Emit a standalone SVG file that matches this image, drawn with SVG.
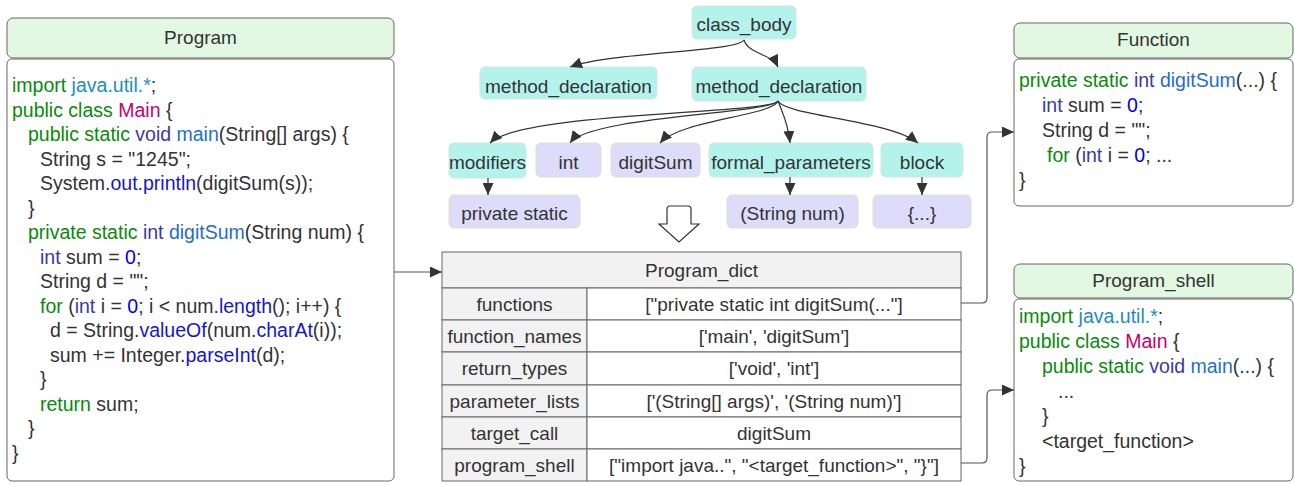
<svg xmlns="http://www.w3.org/2000/svg" width="1294" height="485" viewBox="0 0 1294 485">
<defs>
<marker id="ah" markerUnits="userSpaceOnUse" markerWidth="13" markerHeight="11" refX="12" refY="5.5" orient="auto">
<path d="M0,0 L12,5.5 L0,11 z" fill="#333"/>
</marker>
<style>
.hdr{fill:#e2f8e2;stroke:#666;stroke-width:1}
.body{fill:#fff;stroke:#666;stroke-width:1}
.t{font-family:"Liberation Sans",Arial,sans-serif;font-size:19px;fill:#333}
.c{font-family:"Liberation Sans",Arial,sans-serif;font-size:19.5px;fill:#333}
.mid{text-anchor:middle}
.k{fill:#0a8a0a}
.p{fill:#1e8cc4}
.cl{fill:#c8006e}
.ty{fill:#3a3aa4}
.f{fill:#1f6fc8}
.m{fill:#1515cf}
.n{fill:#0000ee}
.teal{fill:#b4f3ec;stroke:#d2e6e2;stroke-width:1}
.lav{fill:#dedcfb;stroke:#e4e0c4;stroke-width:1}
.edge{fill:none;stroke:#333;stroke-width:1.2}
.conn{fill:none;stroke:#555;stroke-width:1.2}
.cellg{fill:#f2f2f3;stroke:#666;stroke-width:1}
.cellw{fill:#fff;stroke:#666;stroke-width:1}
</style>
</defs>

<g id="program">
<rect class="hdr" x="7" y="18" width="387" height="40" rx="6"/>
<text class="t mid" x="200.5" y="43.5">Program</text>
<rect class="body" x="7" y="59" width="387" height="422" rx="5"/>
<text class="c" x="12" y="92"><tspan class="k">import</tspan> <tspan class="p">java.util.*</tspan>;</text>
<text class="c" x="12" y="116.5"><tspan class="k">public class</tspan> <tspan class="cl">Main</tspan> {</text>
<text class="c" x="28" y="141"><tspan class="k">public static</tspan> <tspan class="ty">void</tspan> <tspan class="f">main</tspan>(String[] args) {</text>
<text class="c" x="40" y="165.5">String s = "1245";</text>
<text class="c" x="40" y="190">System.<tspan class="m">out.println</tspan>(digitSum(s));</text>
<text class="c" x="28" y="214.5">}</text>
<text class="c" x="28" y="239"><tspan class="k">private static</tspan> <tspan class="ty">int</tspan> <tspan class="f">digitSum</tspan>(String num) {</text>
<text class="c" x="40" y="263.5"><tspan class="ty">int</tspan> sum = <tspan class="n">0</tspan>;</text>
<text class="c" x="40" y="288">String d = "";</text>
<text class="c" x="40" y="312.5"><tspan class="k">for</tspan> (<tspan class="ty">int</tspan> i = <tspan class="n">0</tspan>; i &lt; num.<tspan class="m">length</tspan>(); i++) {</text>
<text class="c" x="50" y="337">d = String.<tspan class="m">valueOf</tspan>(num.<tspan class="m">charAt</tspan>(i));</text>
<text class="c" x="50" y="361.5">sum += Integer.<tspan class="m">parseInt</tspan>(d);</text>
<text class="c" x="40" y="386">}</text>
<text class="c" x="40" y="410.5"><tspan class="k">return</tspan> sum;</text>
<text class="c" x="28" y="435">}</text>
<text class="c" x="12" y="459.5">}</text>
</g>

<g id="class_body">
<rect class="teal" x="692" y="6" width="104" height="33" rx="5"/>
<text class="t mid" x="744" y="31">class_body</text>
</g>
<g id="method_declaration_1">
<rect class="teal" x="480" y="67" width="177" height="32" rx="5"/>
<text class="t mid" x="568.5" y="93">method_declaration</text>
</g>
<g id="method_declaration_2">
<rect class="teal" x="692" y="67" width="174" height="34" rx="5"/>
<text class="t mid" x="779" y="93">method_declaration</text>
</g>
<g id="modifiers">
<rect class="teal" x="449" y="143" width="77" height="35" rx="5"/>
<text class="t mid" x="487.5" y="168.5">modifiers</text>
</g>
<g id="int">
<rect class="lav" x="536" y="143" width="65" height="34" rx="5"/>
<text class="t mid" x="568.5" y="168.5">int</text>
</g>
<g id="digitSum">
<rect class="lav" x="611" y="143" width="89" height="34" rx="5"/>
<text class="t mid" x="655.5" y="168.5">digitSum</text>
</g>
<g id="formal_parameters">
<rect class="teal" x="709" y="143" width="164" height="34" rx="5"/>
<text class="t mid" x="791" y="168.5">formal_parameters</text>
</g>
<g id="block">
<rect class="teal" x="881" y="143" width="82" height="34" rx="5"/>
<text class="t mid" x="922" y="168.5">block</text>
</g>
<g id="private_static">
<rect class="lav" x="449" y="195" width="131" height="33" rx="5"/>
<text class="t mid" x="514.5" y="219.5">private static</text>
</g>
<g id="string_num">
<rect class="lav" x="727" y="195" width="131" height="33" rx="5"/>
<text class="t mid" x="792.5" y="219.5">(String num)</text>
</g>
<g id="block_body">
<rect class="lav" x="873" y="195" width="98" height="33" rx="5"/>
<text class="t mid" x="922" y="219.5">{...}</text>
</g>

<g id="down_arrow">
<path d="M667,209 Q667,206 670,206 L688,206 Q691,206 691,209 L691,224 L699,224 L679,242 L659,224 L667,224 Z" fill="#fff" stroke="#333" stroke-width="1.2"/>
</g>

<g id="program_dict">
<rect class="cellg" x="442" y="252" width="519" height="36"/>
<text class="t mid" x="701.5" y="277">Program_dict</text>
<rect class="cellg" x="442" y="288" width="145" height="32"/>
<rect class="cellw" x="587" y="288" width="374" height="32"/>
<rect class="cellg" x="442" y="320" width="145" height="32"/>
<rect class="cellw" x="587" y="320" width="374" height="32"/>
<rect class="cellg" x="442" y="352" width="145" height="33"/>
<rect class="cellw" x="587" y="352" width="374" height="33"/>
<rect class="cellg" x="442" y="385" width="145" height="32"/>
<rect class="cellw" x="587" y="385" width="374" height="32"/>
<rect class="cellg" x="442" y="417" width="145" height="32"/>
<rect class="cellw" x="587" y="417" width="374" height="32"/>
<rect class="cellg" x="442" y="449" width="145" height="32"/>
<rect class="cellw" x="587" y="449" width="374" height="32"/>
<text class="t mid" x="514.5" y="311">functions</text>
<text class="t mid" x="774" y="311">["private static int digitSum(..."]</text>
<text class="t mid" x="514.5" y="343">function_names</text>
<text class="t mid" x="774" y="343">['main', 'digitSum']</text>
<text class="t mid" x="514.5" y="375">return_types</text>
<text class="t mid" x="774" y="375">['void', 'int']</text>
<text class="t mid" x="514.5" y="408">parameter_lists</text>
<text class="t mid" x="774" y="408">['(String[] args)', '(String num)']</text>
<text class="t mid" x="514.5" y="440">target_call</text>
<text class="t mid" x="774" y="440">digitSum</text>
<text class="t mid" x="514.5" y="472">program_shell</text>
<text class="t mid" x="774" y="472">["import java..", "&lt;target_function&gt;", "}"]</text>
</g>

<g id="function">
<rect class="hdr" x="1014" y="23" width="279" height="35" rx="6"/>
<text class="t mid" x="1153.5" y="46">Function</text>
<rect class="body" x="1014" y="59" width="279" height="147" rx="5"/>
<text class="c" x="1019" y="87"><tspan class="k">private static</tspan> <tspan class="ty">int</tspan> <tspan class="f">digitSum</tspan>(...) {</text>
<text class="c" x="1042" y="112"><tspan class="ty">int</tspan> sum = <tspan class="n">0</tspan>;</text>
<text class="c" x="1042" y="137">String d = "";</text>
<text class="c" x="1047" y="162"><tspan class="k">for</tspan> (<tspan class="ty">int</tspan> i = <tspan class="n">0</tspan>; ...</text>
<text class="c" x="1019" y="187">}</text>
</g>

<g id="program_shell">
<rect class="hdr" x="1014" y="264" width="279" height="34" rx="6"/>
<text class="t mid" x="1153.5" y="287">Program_shell</text>
<rect class="body" x="1014" y="299" width="279" height="182" rx="5"/>
<text class="c" x="1019" y="323"><tspan class="k">import</tspan> <tspan class="p">java.util.*</tspan>;</text>
<text class="c" x="1019" y="348"><tspan class="k">public class</tspan> <tspan class="cl">Main</tspan> {</text>
<text class="c" x="1042" y="373"><tspan class="k">public static</tspan> <tspan class="ty">void</tspan> <tspan class="f">main</tspan>(...) {</text>
<text class="c" x="1058" y="398">...</text>
<text class="c" x="1042" y="423">}</text>
<text class="c" x="1042" y="448">&lt;target_function&gt;</text>
<text class="c" x="1019" y="473">}</text>
</g>

<g id="connectors">
<path class="edge" d="M744,40 C738,52 610,52 570,67" marker-end="url(#ah)"/>
<path class="edge" d="M744,40 C748,54 772,54 778,67" marker-end="url(#ah)"/>
<path class="edge" d="M778,101 C770,114 520,112 490,143" marker-end="url(#ah)"/>
<path class="edge" d="M778,101 C770,114 590,116 570,143" marker-end="url(#ah)"/>
<path class="edge" d="M778,101 C772,116 680,120 660,143" marker-end="url(#ah)"/>
<path class="edge" d="M778,101 C782,112 788,122 790,143" marker-end="url(#ah)"/>
<path class="edge" d="M778,101 C786,116 890,120 918,143" marker-end="url(#ah)"/>
<path class="edge" d="M488,178 L488,195" marker-end="url(#ah)"/>
<path class="edge" d="M790,177 L790,195" marker-end="url(#ah)"/>
<path class="edge" d="M922,177 L922,195" marker-end="url(#ah)"/>
<path class="conn" d="M394,272 L442,272" marker-end="url(#ah)"/>
<path class="conn" d="M961,303 L982,303 Q987,303 987,298 L987,137 Q987,132 992,132 L1014,132" marker-end="url(#ah)"/>
<path class="conn" d="M961,463 L982,463 Q987,463 987,458 L987,395 Q987,390 992,390 L1014,390" marker-end="url(#ah)"/>
</g>
</svg>
